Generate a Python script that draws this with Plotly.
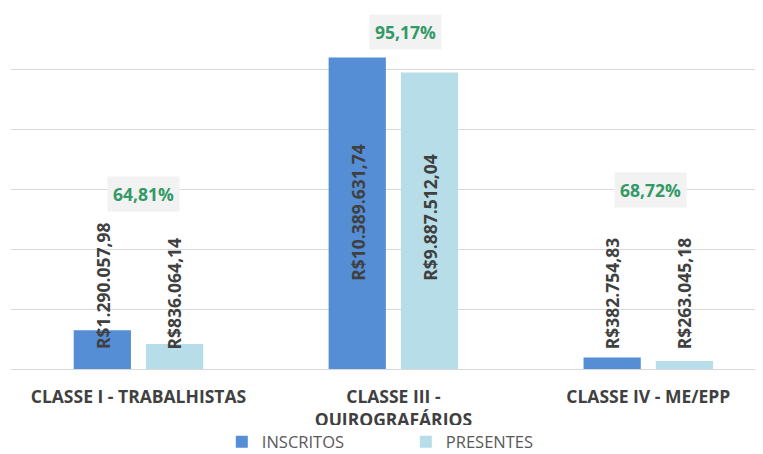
import plotly.graph_objects as go

categories = ["CLASSE I - TRABALHISTAS", "CLASSE III -<br>QUIROGRAFÁRIOS", "CLASSE IV - ME/EPP"]
inscritos = [1290057.98, 10389631.74, 382754.83]
presentes = [836064.14, 9887512.04, 263045.18]
series_names = ["INSCRITOS", "PRESENTES"]

COL_INS = "#558ED5"
COL_PRE = "#B7DEE8"
FONT = "Open Sans"
DARK = "#404040"


def brl(v):
    s = f"{v:,.2f}"
    s = s.replace(",", "X").replace(".", ",").replace("X", ".")
    return "R$" + s


def pct(a, b):
    return f"{b / a * 100:.2f}".replace(".", ",") + "%"


fig = go.Figure()
fig.add_trace(go.Bar(x=categories, y=inscritos, name=series_names[0],
                     marker=dict(color=COL_INS, line=dict(width=0))))
fig.add_trace(go.Bar(x=categories, y=presentes, name=series_names[1],
                     marker=dict(color=COL_PRE, line=dict(width=0))))

annotations = []
# value labels (rotated)
for ser, shift in ((inscritos, -36), (presentes, 36)):
    for c, v in zip(categories, ser):
        ys = 86 if v > 3e6 else 18
        annotations.append(dict(x=c, y=0, xref="x", yref="y", text=brl(v),
                                textangle=-90, showarrow=False, xanchor="center",
                                yanchor="bottom", xshift=shift, yshift=ys,
                                font=dict(family=FONT, size=17.5, color=DARK, weight="bold")))

# percentage labels
pct_label_y = [5.83e6, 11.23e6, 5.97e6]
pct_label_dx = [5, 12, 2]
for c, a, b, yy, dx in zip(categories, inscritos, presentes, pct_label_y, pct_label_dx):
    annotations.append(dict(x=c, y=yy, xref="x", yref="y", text=pct(a, b),
                            showarrow=False, xanchor="center", yanchor="middle",
                            xshift=dx, bgcolor="#F2F2F2", borderpad=5,
                            font=dict(family=FONT, size=17.5, color="#339966", weight="bold")))

# page body has an 8px margin, so the figure is sized/offset to compensate
fig.update_layout(
    width=755, height=446,
    margin=dict(l=3, r=0, t=1, b=85, autoexpand=False),
    paper_bgcolor="white", plot_bgcolor="white",
    barmode="group", bargap=0.433, bargroupgap=0.208,
    showlegend=True,
    legend=dict(orientation="h", x=0.525, xanchor="center", y=-0.203, yanchor="middle",
                font=dict(family=FONT, size=16.5, color="#595959"),
                entrywidth=139, entrywidthmode="pixels", traceorder="normal",
                itemwidth=30),
    xaxis=dict(range=[-0.5, 2.45], showgrid=False, showline=False, zeroline=False,
               ticks="outside", ticklen=12, tickcolor="rgba(0,0,0,0)",
               tickfont=dict(family=FONT, size=17.5, color=DARK, weight="bold")),
    yaxis=dict(range=[0, 12.01e6], dtick=2e6, showgrid=True, gridcolor="#D9D9D9", gridwidth=1,
               zeroline=True, zerolinecolor="#D9D9D9", zerolinewidth=1,
               showticklabels=False, ticks=""),
    annotations=annotations,
)

fig.write_html("out.html")
